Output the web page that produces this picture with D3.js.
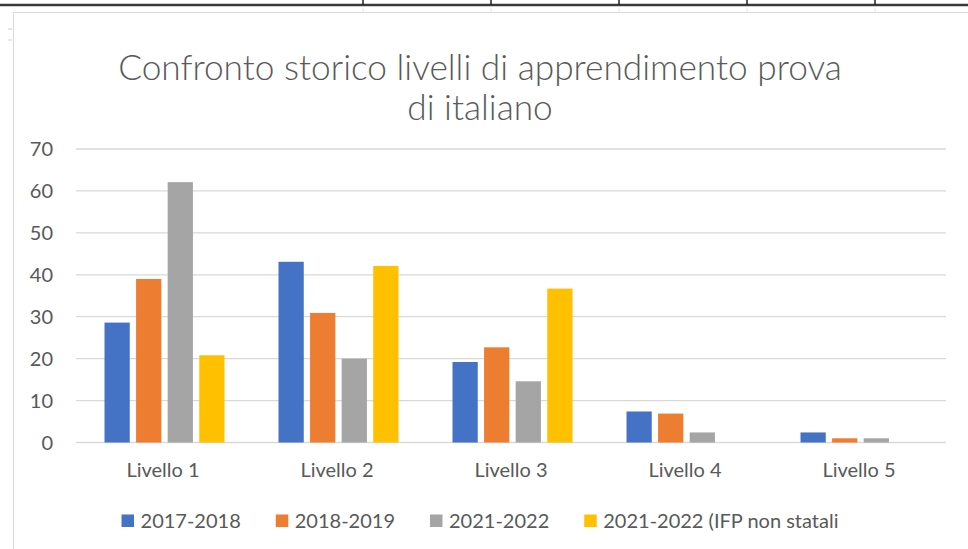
<!DOCTYPE html>
<html>
<head>
<meta charset="utf-8">
<script src="https://cdn.jsdelivr.net/npm/d3@7"></script>
<style>
  body { margin: 0; background: #fff; }
  svg { display: block; font-family: Lato, "Open Sans", sans-serif; }
</style>
</head>
<body>
<svg id="chart" width="968" height="549"></svg>
<script>
// chart data
const levels = ["Livello 1", "Livello 2", "Livello 3", "Livello 4", "Livello 5"];
const seriesNames = ["2017-2018", "2018-2019", "2021-2022", "2021-2022 (IFP non statali"];
const v2017 = [28.6, 43.1, 19.2, 7.4, 2.4];
const v2018 = [39.0, 30.9, 22.7, 6.9, 1.0];
const v2021 = [62.1, 20.0, 14.6, 2.4, 1.0];
const v2021ifp = [20.8, 42.1, 36.7, 0, 0];
const yTicks = [0, 10, 20, 30, 40, 50, 60, 70];
const titleLines = ["Confronto storico livelli di apprendimento prova", "di italiano"];

const colors = ["#4472C4", "#ED7D31", "#A5A5A5", "#FFC000"];
const textColor = "#595959";

const svg = d3.select("#chart");

// spreadsheet bits above the chart
svg.append("rect").attr("width", 968).attr("height", 549).attr("fill", "#fff");
svg.append("line")
  .attr("x1", 0).attr("x2", 968).attr("y1", 5).attr("y2", 5)
  .attr("stroke", "#3a3a3a").attr("stroke-width", 2.5);
[363, 491, 619, 747, 875].forEach(x => {
  svg.append("line").attr("x1", x).attr("x2", x).attr("y1", 0).attr("y2", 5)
    .attr("stroke", "#222").attr("stroke-width", 1.5);
  svg.append("line").attr("x1", x).attr("x2", x).attr("y1", 6).attr("y2", 12)
    .attr("stroke", "#e4e4e4").attr("stroke-width", 1);
});
[29, 40].forEach(y => {
  svg.append("line").attr("x1", 8).attr("x2", 12).attr("y1", y).attr("y2", y)
    .attr("stroke", "#ccc");
});

// chart frame
svg.append("rect")
  .attr("x", 13.5).attr("y", 12.5).attr("width", 1000).attr("height", 600)
  .attr("fill", "#fff").attr("stroke", "#d9d9d9");

const plot = { left: 76, right: 946, top: 149, bottom: 442.5 };

const x0 = d3.scaleBand().domain(levels).range([plot.left, plot.right]);
const x1 = d3.scaleBand().domain(seriesNames)
  .range([28.5, 148.5]).paddingInner(0.2);
const y = d3.scaleLinear().domain([0, 70]).range([plot.bottom, plot.top]);

// gridlines
svg.append("g")
  .selectAll("line")
  .data(yTicks)
  .join("line")
  .attr("x1", plot.left).attr("x2", plot.right)
  .attr("y1", d => y(d)).attr("y2", d => y(d))
  .attr("stroke", "#d9d9d9").attr("stroke-width", 1.3);

// y labels
svg.append("g")
  .selectAll("text")
  .data(yTicks)
  .join("text")
  .attr("x", 53).attr("y", d => y(d))
  .attr("dy", "0.35em")
  .attr("text-anchor", "end")
  .attr("font-size", 20)
  .attr("fill", textColor)
  .text(d => d);

// bars
const allSeries = [v2017, v2018, v2021, v2021ifp];
const rows = [];
allSeries.forEach((vals, si) => {
  vals.forEach((v, li) => rows.push({ level: levels[li], series: seriesNames[si], si, value: v }));
});

svg.append("g")
  .selectAll("rect")
  .data(rows.filter(d => d.value > 0))
  .join("rect")
  .attr("x", d => x0(d.level) + x1(d.series))
  .attr("width", x1.bandwidth())
  .attr("y", d => y(d.value))
  .attr("height", d => y(0) - y(d.value))
  .attr("fill", d => colors[d.si]);

// x labels
svg.append("g")
  .selectAll("text")
  .data(levels)
  .join("text")
  .attr("x", d => x0(d) + x0.bandwidth() / 2)
  .attr("y", 477)
  .attr("text-anchor", "middle")
  .attr("font-size", 20)
  .attr("fill", textColor)
  .text(d => d);

// title, sized so the first line spans the same width as the original
const title = svg.append("g").attr("fill", textColor).attr("font-weight", 300);
const t1 = title.append("text")
  .attr("x", 480).attr("y", 80)
  .attr("text-anchor", "middle")
  .attr("font-size", 28)
  .text(titleLines[0]);
const titleSize = 28 * 724 / t1.node().getComputedTextLength();
t1.attr("font-size", titleSize);
title.append("text")
  .attr("x", 480).attr("y", 120)
  .attr("text-anchor", "middle")
  .attr("font-size", titleSize)
  .text(titleLines[1]);

// legend
const legend = svg.append("g");
let lx = 0;
seriesNames.forEach((name, i) => {
  const item = legend.append("g").attr("transform", `translate(${lx},0)`);
  item.append("rect")
    .attr("x", 0).attr("y", -6.5).attr("width", 12.5).attr("height", 12.5)
    .attr("fill", colors[i]);
  const t = item.append("text")
    .attr("x", 19).attr("y", 0).attr("dy", "0.35em")
    .attr("font-size", 20)
    .attr("fill", textColor)
    .text(name);
  lx += 19 + t.node().getComputedTextLength() + 35;
});
const legendWidth = lx - 35;
legend.attr("transform", `translate(${480 - legendWidth / 2},521)`);
</script>
</body>
</html>
